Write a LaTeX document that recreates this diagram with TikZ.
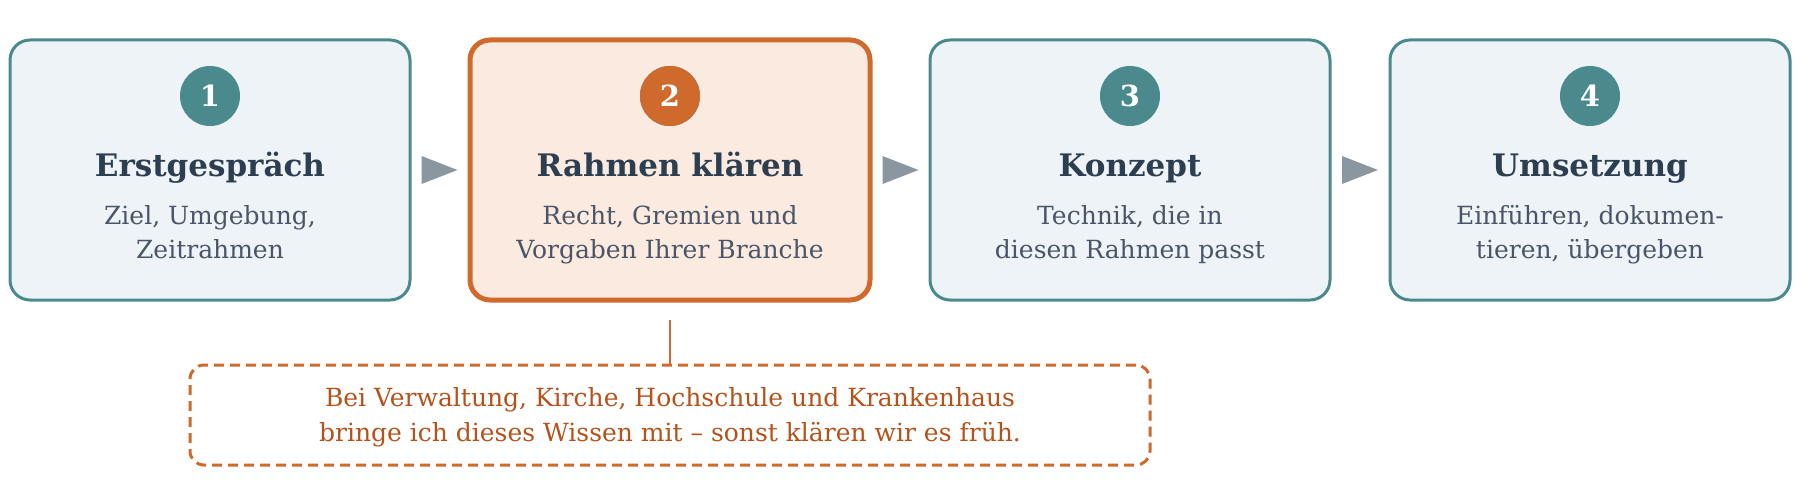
\documentclass[tikz,border=0pt]{standalone}
\usepackage{fontspec}
\setmainfont{DejaVu Serif}
\usetikzlibrary{positioning}
\definecolor{teal}{HTML}{4A8A8C}
\definecolor{tealfill}{HTML}{EDF3F6}
\definecolor{orng}{HTML}{D06A2C}
\definecolor{orngfill}{HTML}{FBEAE0}
\definecolor{titlec}{HTML}{2C3E50}
\definecolor{subc}{HTML}{4A5568}
\definecolor{notec}{HTML}{B5521B}
\definecolor{arrc}{HTML}{8A96A0}
\tikzset{
  stepbox/.style={draw=teal, fill=tealfill, line width=3pt, rounded corners=20pt, minimum width=400pt, minimum height=260pt, inner sep=0pt},
  activebox/.style={stepbox, draw=orng, fill=orngfill, line width=5pt},
  numcirc/.style={circle, fill=teal, minimum size=60pt, inner sep=0pt, text=white, font=\fontsize{29}{30}\selectfont\bfseries},
  titletxt/.style={anchor=base, inner sep=0pt, text=titlec, font=\fontsize{31}{36}\selectfont\bfseries},
  subtxt/.style={anchor=base, inner sep=0pt, text=subc, font=\fontsize{25}{34}\selectfont, align=center},
  arrowtri/.style={fill=arrc},
  notebox/.style={draw=orng, line width=3pt, dash pattern=on 10pt off 6pt, rounded corners=14pt, minimum width=960pt, minimum height=100pt, inner sep=0pt},
  notetxt/.style={anchor=base, inner sep=0pt, text=notec, font=\fontsize{25}{35}\selectfont, align=center}
}
\begin{document}
\begin{tikzpicture}[x=1pt,y=-1pt]
\useasboundingbox (0,0) rectangle (1800,500);
\node[stepbox] (b1) at (210,170) {};
\node[activebox] (b2) at (670,170) {};
\node[stepbox] (b3) at (1130,170) {};
\node[stepbox] (b4) at (1590,170) {};
\foreach \b/\n/\t/\s in {b1/1/Erstgespräch/{Ziel, Umgebung,\\Zeitrahmen},
  b2/2/Rahmen klären/{Recht, Gremien und\\Vorgaben Ihrer Branche},
  b3/3/Konzept/{Technik, die in\\diesen Rahmen passt},
  b4/4/Umsetzung/{Einführen, dokumen-\\tieren, übergeben}}{
  \node[numcirc] (\b n) at ([yshift=74pt]\b.center) {\n};
  \node[titletxt] (\b t) at ([yshift=-6.5pt]\b.center) {\t};
  \node[subtxt] (\b s) at ([yshift=-88pt]\b.center) {\s};
}
\node[numcirc, fill=orng] at (b2n) {2};
\foreach \a/\c in {b1/b2,b2/b3,b3/b4}{
  \path (\a.east) -- (\c.west) coordinate[pos=0.5] (m\a);
  \fill[arrowtri] ([xshift=-18pt,yshift=-14pt]m\a) -- ([xshift=18pt]m\a) -- ([xshift=-18pt,yshift=14pt]m\a) -- cycle;
}
\node[notebox] (note) at (670,415) {};
\node[notetxt] (notet) at ([yshift=-26pt]note.center) {Bei Verwaltung, Kirche, Hochschule und Krankenhaus\\bringe ich dieses Wissen mit – sonst klären wir es früh.};
\coordinate (c2) at ([yshift=-17pt]b2.south);
\draw[orng, line width=2.5pt] (c2) -- (note.north);
\end{tikzpicture}
\end{document}
